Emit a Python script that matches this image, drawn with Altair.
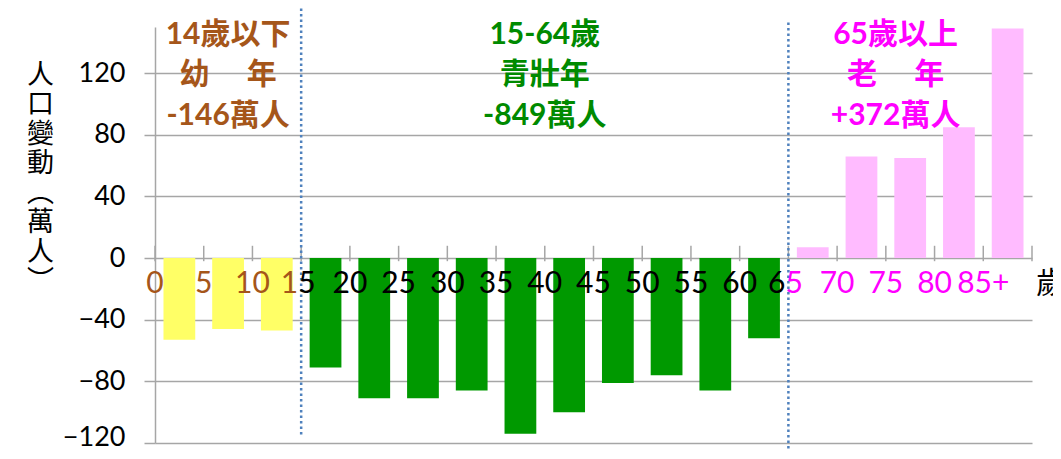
import altair as alt
import pandas as pd

# ---- data ----
age_starts = [0, 5, 10, 15, 20, 25, 30, 35, 40, 45, 50, 55, 60, 65, 70, 75, 80, 85]
changes = [-53, -46, -47, -71, -91, -91, -86, -114, -100, -81, -76, -86, -52,
           7, 66, 65, 85, 149]
groups = ["幼年"] * 3 + ["青壯年"] * 10 + ["老年"] * 5

group_names = ["幼年", "青壯年", "老年"]
bar_colors = ["#FFFF66", "#009900", "#FFBBFF"]
text_colors = ["#A5561A", "#008A00", "#FF00FF"]

tick_ages = [0, 5, 10, 15, 20, 25, 30, 35, 40, 45, 50, 55, 60, 65, 70, 75, 80, 85, 90]

label_ages = [0, 5, 10, 15, 15, 20, 25, 30, 35, 40, 45, 50, 55, 60, 65, 65, 70, 75, 80, 85]
label_texts = ["0", "5", "10", "1", "5", "20", "25", "30", "35", "40", "45", "50",
               "55", "60", "6", "5", "70", "75", "80", "85+"]
label_colors = ["#A5561A"] * 4 + ["#000000"] * 11 + ["#FF00FF"] * 5
label_parts = ["c", "c", "c", "r", "l", "c", "c", "c", "c", "c", "c", "c",
               "c", "c", "r", "l", "c", "c", "c", "c"]

group_label_ages = [7.5, 40, 76]
group_label_lines = [["14歲以下", "幼　 年", "-146萬人"],
                     ["15-64歲", "青壯年", "-849萬人"],
                     ["65歲以上", "老　 年", "+372萬人"]]

divider_ages = [15, 65]
divider_top = [162, 153]
divider_bottom = [-115, -124]

y_ticks = [-120, -80, -40, 0, 40, 80, 120]
y_title = ["人", "口", "變", "動", "︵", "萬", "人", "︶"]
unit_label = "歲"

NUM_FONT = "Lato, 'Noto Sans CJK TC', sans-serif"
CJK_FONT = "'Noto Sans CJK TC', sans-serif"
GRID = "#A6A6A6"

bars = pd.DataFrame({"start": age_starts, "change": changes, "group": groups})
ticks = pd.DataFrame({"age": tick_ages})
labels = pd.DataFrame({"age": label_ages, "text": label_texts,
                       "color": label_colors, "part": label_parts})
glabels = pd.DataFrame({"age": group_label_ages,
                        "text": ["\n".join(l) for l in group_label_lines],
                        "color": text_colors})
dividers = pd.DataFrame({"age": divider_ages, "top": divider_top, "bottom": divider_bottom})

xscale = alt.Scale(domain=[0, 90], nice=False, zero=False)
yscale = alt.Scale(domain=[-120, 150], nice=False, zero=False)

bar_layer = alt.Chart(bars).transform_calculate(
    x0="datum.start + 0.87", x1="datum.start + 4.13"
).mark_bar().encode(
    x=alt.X("x0:Q", scale=xscale, axis=None),
    x2="x1:Q",
    y=alt.Y("change:Q", scale=yscale,
            axis=alt.Axis(values=y_ticks, title=y_title, titleAngle=0,
                          titleX=-115, titleY=48, titleAlign="center",
                          titleBaseline="middle", titleLineHeight=29.5,
                          titleFontSize=27, titleFont=CJK_FONT,
                          titleFontWeight="normal", titleColor="#000000",
                          labelFontSize=27, labelFont=NUM_FONT, labelColor="#000000",
                          labelOffset=alt.condition("datum.value == -120",
                                                    alt.value(-6), alt.value(0)),
                          labelPadding=19, tickSize=11, tickColor=GRID, tickWidth=1.5,
                          domainColor=GRID, domainWidth=1.5,
                          grid=True, gridColor=GRID, gridWidth=1.5)),
    y2=alt.datum(0),
    color=alt.Color("group:N", scale=alt.Scale(domain=group_names, range=bar_colors),
                    legend=None),
)

tick_layer = alt.Chart(ticks).mark_rule(color=GRID, strokeWidth=1.5).encode(
    x=alt.X("age:Q", scale=xscale),
    y=alt.datum(-2),
    y2=alt.datum(8),
)

def label_layer(part, align, dx):
    return alt.Chart(labels).transform_filter(
        alt.datum.part == part
    ).mark_text(align=align, baseline="middle", dy=26, dx=dx, fontSize=30,
                font=NUM_FONT).encode(
        x=alt.X("age:Q", scale=xscale),
        y=alt.datum(0),
        text="text:N",
        color=alt.Color("color:N", scale=None),
    )

center_labels = label_layer("c", "center", 0)
right_labels = label_layer("r", "right", -3)
left_labels = label_layer("l", "left", -3)

unit_layer = alt.Chart(pd.DataFrame({"age": [tick_ages[-1]], "text": [unit_label]})).mark_text(
    align="left", baseline="middle", dx=4, dy=26, fontSize=30, font=CJK_FONT, color="#000000"
).encode(x=alt.X("age:Q", scale=xscale), y=alt.datum(0), text="text:N")

divider_layer = alt.Chart(dividers).mark_rule(
    color="#4F81BD", strokeWidth=2.5, strokeDash=[2.5, 3]
).encode(
    x=alt.X("age:Q", scale=xscale),
    y=alt.Y("top:Q", scale=yscale),
    y2="bottom:Q",
)

group_text = alt.Chart(glabels).mark_text(
    align="center", baseline="middle", lineBreak="\n", lineHeight=40.5,
    fontSize=30, fontWeight="bold", font=NUM_FONT
).encode(
    x=alt.X("age:Q", scale=xscale),
    y=alt.datum(145),
    text="text:N",
    color=alt.Color("color:N", scale=None),
)

chart = alt.layer(
    bar_layer, tick_layer, divider_layer, center_labels, right_labels, left_labels,
    unit_layer, group_text
).properties(
    width=877, height=416,
    padding={"left": 147, "top": 19, "right": 21, "bottom": 7},
    autosize=alt.AutoSizeParams(type="none"),
).configure_view(stroke=None)

chart.save("out.html", embed_options={"renderer": "svg", "actions": False})
